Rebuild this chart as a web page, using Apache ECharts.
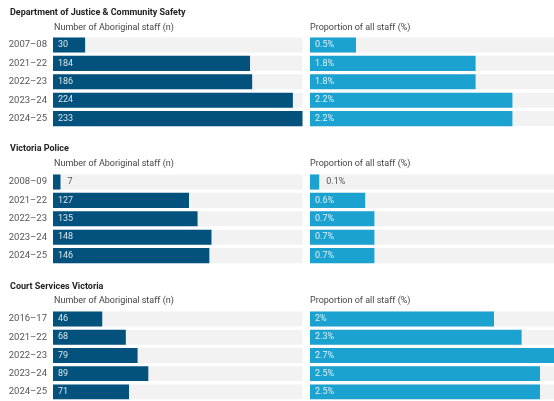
<!DOCTYPE html>
<html>
<head>
<meta charset="utf-8">
<script src="https://cdn.jsdelivr.net/npm/echarts@6/dist/echarts.min.js"></script>
<style>
html,body{margin:0;padding:0;background:#fff;}
#chart{width:554px;height:401px;}
</style>
</head>
<body>
<div id="chart"></div>
<script>
// ---- Data ----
const sectionTitles = ['Department of Justice & Community Safety', 'Victoria Police', 'Court Services Victoria'];
const leftSubtitle = 'Number of Aboriginal staff (n)';
const rightSubtitle = 'Proportion of all staff (%)';

const dojCats = ['2007–08', '2021–22', '2022–23', '2023–24', '2024–25'];
const dojN = [30, 184, 186, 224, 233];
const dojPct = [0.5, 1.8, 1.8, 2.2, 2.2];

const vpCats = ['2008–09', '2021–22', '2022–23', '2023–24', '2024–25'];
const vpN = [7, 127, 135, 148, 146];
const vpPct = [0.1, 0.6, 0.7, 0.7, 0.7];

const csvCats = ['2016–17', '2021–22', '2022–23', '2023–24', '2024–25'];
const csvN = [46, 68, 79, 89, 71];
const csvPct = [2, 2.3, 2.7, 2.5, 2.5];

const sections = [
  { cats: dojCats, n: dojN, pct: dojPct },
  { cats: vpCats, n: vpN, pct: vpPct },
  { cats: csvCats, n: csvN, pct: csvPct }
];

// ---- Layout / style ----
const FONT = 'Roboto, "Noto Sans", sans-serif';
const DARK = '#03527d';
const LIGHT = '#1ba2d0';
const BG = '#f2f2f2';
const nMax = 233, pctMax = 2.652;
const leftL = 53, leftW = 249.5;
const rightL = 310, rightW = 244;
const sectionTop = [35.8, 172.8, 309.8];
const titleY = [14, 150.7, 288.3];
const subY = [29, 165, 302.7];
const gridH = 92;

const grids = [], xAxes = [], yAxes = [], series = [], graphics = [];

function mkLabels(vals, max, width) {
  return vals.map(v => {
    const px = v / max * width;
    const outside = px < 20;
    return {
      value: v,
      label: {
        position: outside ? 'right' : 'insideLeft',
        distance: outside ? 7 : 5,
        color: outside ? '#555' : 'rgba(255,255,255,0.85)'
      }
    };
  });
}

sections.forEach((s, i) => {
  grids.push({ left: leftL, width: leftW, top: sectionTop[i], height: gridH, containLabel: false });
  grids.push({ left: rightL, width: rightW, top: sectionTop[i], height: gridH, containLabel: false });
  const gl = i * 2, gr = i * 2 + 1;
  xAxes.push({ gridIndex: gl, type: 'value', min: 0, max: nMax, show: false });
  xAxes.push({ gridIndex: gr, type: 'value', min: 0, max: pctMax, show: false });
  yAxes.push({
    gridIndex: gl, type: 'category', data: s.cats, inverse: true,
    axisLine: { show: false }, axisTick: { show: false },
    axisLabel: { fontFamily: FONT, fontSize: 9.5, color: '#555', margin: 6 }
  });
  yAxes.push({
    gridIndex: gr, type: 'category', data: s.cats, inverse: true,
    axisLine: { show: false }, axisTick: { show: false }, axisLabel: { show: false }
  });
  series.push({
    type: 'bar', xAxisIndex: gl, yAxisIndex: gl,
    data: mkLabels(s.n, nMax, leftW),
    barCategoryGap: '18%',
    itemStyle: { color: DARK },
    showBackground: true, backgroundStyle: { color: BG },
    label: { show: true, fontFamily: FONT, fontSize: 9 },
    clip: true, silent: true, animation: false
  });
  series.push({
    type: 'bar', xAxisIndex: gr, yAxisIndex: gr,
    data: mkLabels(s.pct, pctMax, rightW),
    barCategoryGap: '18%',
    itemStyle: { color: LIGHT },
    showBackground: true, backgroundStyle: { color: BG },
    label: { show: true, fontFamily: FONT, fontSize: 9, formatter: p => p.value + '%' },
    clip: true, silent: true, animation: false
  });
  graphics.push({
    type: 'text', left: 10, top: titleY[i] - 6,
    style: { text: sectionTitles[i], font: 'bold 9px ' + FONT, fill: '#222' }
  });
  graphics.push({
    type: 'text', left: 54, top: subY[i] - 6,
    style: { text: leftSubtitle, font: '9px ' + FONT, fill: '#444' }
  });
  graphics.push({
    type: 'text', left: 310, top: subY[i] - 6,
    style: { text: rightSubtitle, font: '9px ' + FONT, fill: '#444' }
  });
});

const chart = echarts.init(document.getElementById('chart'), null, { renderer: 'canvas' });
chart.setOption({
  animation: false,
  grid: grids,
  xAxis: xAxes,
  yAxis: yAxes,
  series: series,
  graphic: graphics
});
</script>
</body>
</html>
